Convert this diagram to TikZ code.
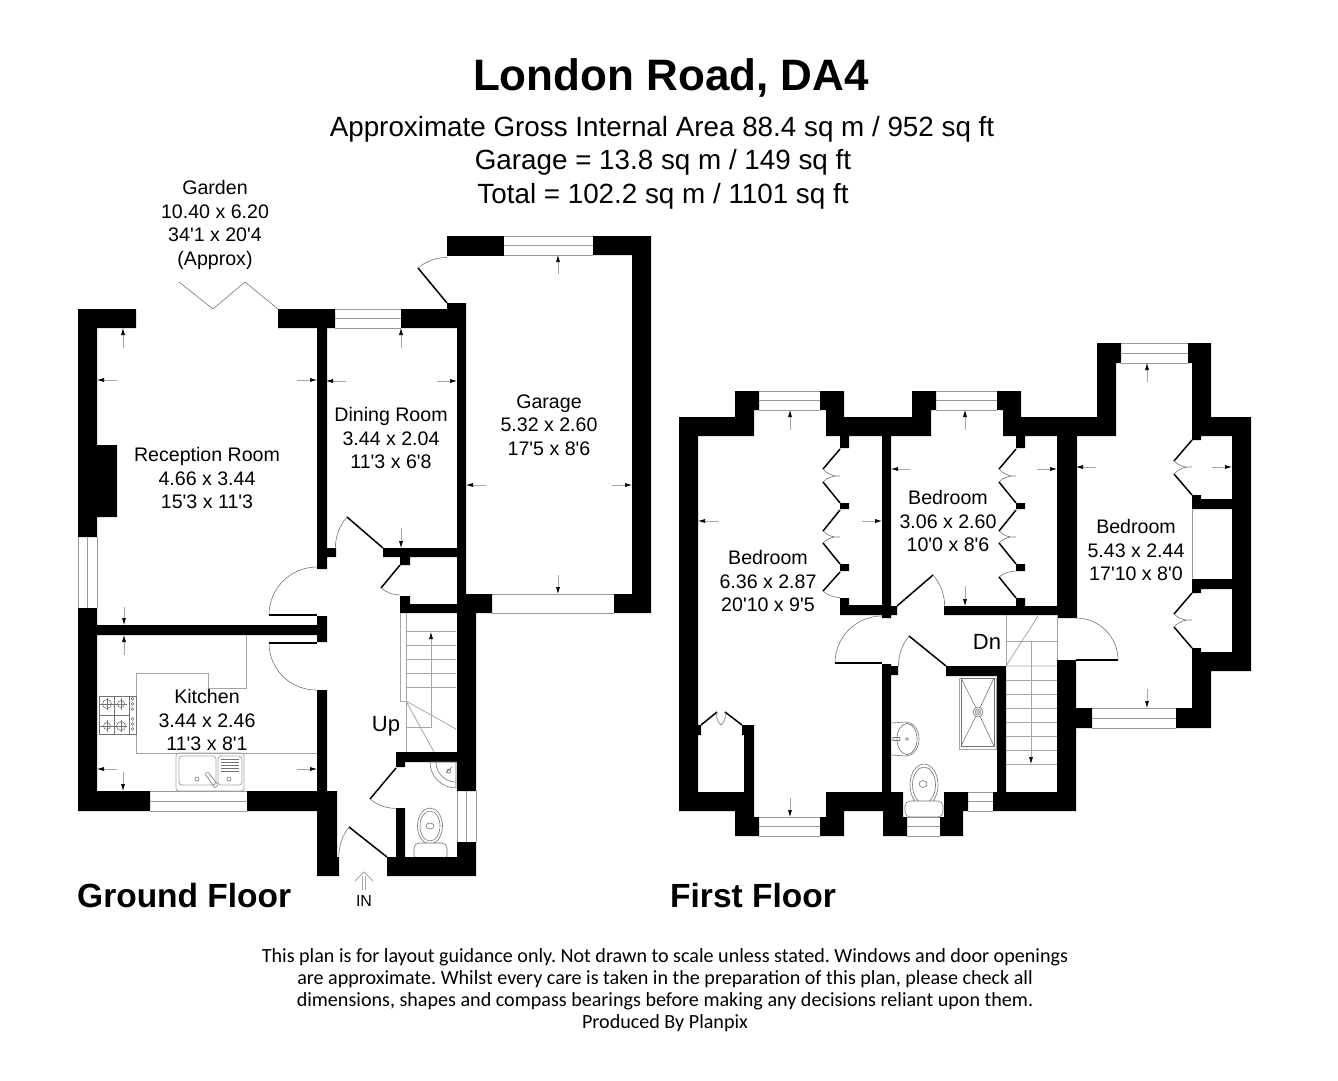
\documentclass[tikz,border=0pt]{standalone}
\usepackage{fontspec}
\setmainfont[Ligatures=TeXOff]{Liberation Sans}
\newfontfamily\notefont{Carlito}
\usetikzlibrary{arrows.meta}

\begin{document}
\frenchspacing
\begin{tikzpicture}[x=1pt, y=-1pt,
		wall/.style={fill=black},
		leaf/.style={draw=black, line width=1.5pt},
		fine/.style={draw=black!55, line width=0.6pt},
		win/.style={draw=black!40, line width=0.7pt},
		unit/.style={draw=black!35, line width=0.8pt},
		tick/.style={draw=black!35, line width=0.6pt, -{Latex[black, length=7pt, width=4pt]}},
		roomtext/.style={inner sep=0pt, align=center, font=\fontsize{19.6}{23.6}\selectfont},
		floortext/.style={inner sep=0pt, anchor=west, font=\fontsize{33.5}{36}\selectfont\bfseries},
		areatext/.style={inner sep=0pt, font=\fontsize{27.8}{32}\selectfont},
		notetext/.style={inner sep=0pt, font=\fontsize{20.1}{22}\selectfont\notefont}]
	\useasboundingbox (0, 0) rectangle (1338, 1080);

	% Ground floor walls
	\fill[wall] (78, 309) -- (136, 309) -- (136, 328) -- (97, 328) -- (97, 445) -- (117, 445) -- (117, 517) -- (97, 517) -- (97, 537) -- (78, 537) -- cycle;
	\fill[wall] (78, 608) -- (97, 608) -- (97, 625) -- (317, 625) -- (317, 616) -- (327, 616) -- (327, 642) -- (317, 642) -- (317, 635) -- (97, 635) -- (97, 791) -- (150, 791) -- (150, 811) -- (78, 811) -- cycle;
	\fill[wall] (278, 309) -- (335, 309) -- (335, 328) -- (327, 328) -- (327, 548) -- (336, 548) -- (336, 557) -- (327, 557) -- (327, 569) -- (317, 569) -- (317, 328) -- (278, 328) -- cycle;
	\fill[wall] (401, 309) -- (447, 309) -- (447, 303) -- (466, 303) -- (466, 594) -- (492, 594) -- (492, 613) -- (476, 613) -- (476, 791) -- (457, 791) -- (457, 613) -- (400, 613) -- (400, 596) -- (410, 596) -- (410, 604) -- (457, 604) -- (457, 557) -- (410, 557) -- (410, 565) -- (400, 565) -- (400, 557) -- (383, 557) -- (383, 548) -- (457, 548) -- (457, 328) -- (401, 328) -- cycle;
	\fill[wall] (396, 752) -- (457, 752) -- (457, 762) -- (405, 762) -- (405, 767) -- (396, 767) -- cycle;
	\fill[wall] (457, 842) -- (476, 842) -- (476, 876) -- (387, 876) -- (387, 857) -- (396, 857) -- (396, 808) -- (405, 808) -- (405, 857) -- (457, 857) -- cycle;
	\fill[wall] (247, 791) -- (317, 791) -- (317, 690) -- (327, 690) -- (327, 791) -- (337, 791) -- (337, 857) -- (339, 857) -- (339, 876) -- (317, 876) -- (317, 811) -- (247, 811) -- cycle;
	\fill[wall] (447, 236) rectangle (504, 256);
	\fill[wall] (593, 236) -- (651, 236) -- (651, 613) -- (614, 613) -- (614, 594) -- (632, 594) -- (632, 255) -- (593, 255) -- cycle;

	% Ground floor windows
	\draw[win] (78, 537) -- (78, 608) (87.5, 537) -- (87.5, 608) (97, 537) -- (97, 608);
	\draw[win] (335, 309) -- (401, 309) (335, 318.5) -- (401, 318.5) (335, 328) -- (401, 328);
	\draw[win] (504, 236) -- (593, 236) (504, 245.5) -- (593, 245.5) (504, 255) -- (593, 255);
	\draw[win] (492, 594) -- (614, 594) (492, 613) -- (614, 613);
	\draw[win] (150, 791) -- (247, 791) (150, 801) -- (247, 801) (150, 811) -- (247, 811);
	\draw[win] (457, 791) -- (457, 842) (466.5, 791) -- (466.5, 842) (476, 791) -- (476, 842);

	% Ground floor doors
	\draw[fine] (179, 282) -- (213, 309) -- (245, 282) -- (278, 309);
	\draw[leaf] (269, 615) -- (317, 615);
	\draw[fine] (269, 615) arc (180:270:48);
	\draw[leaf] (269, 643) -- (317, 643);
	\draw[fine] (269, 643) arc (180:90:47);
	\draw[leaf] (447, 303) -- (418, 268);
	\draw[fine] (418, 268) arc (230:270:45);
	\draw[leaf] (383, 548) -- (347, 517);
	\draw[fine] (347, 517) arc (221:180:47.5);
	\draw[leaf] (400, 565) -- (381, 588);
	\draw[fine] (381, 588) arc (130:90:30);
	\draw[leaf] (396, 768) -- (370, 799);
	\draw[fine] (370, 799) arc (130:90:40);
	\draw[leaf] (387, 857) -- (349, 827);
	\draw[fine] (349, 827) arc (218:180:48);

	% Worktop, hob and sink
	\draw[unit] (246, 635) -- (246, 688) -- (208, 688) -- (208, 673) -- (136, 673) -- (136, 753) -- (317, 753);
	\draw[fine] (99, 696) rectangle (136, 734);
	\draw[fine] (99, 696) rectangle (114, 715) (114, 696) rectangle (129, 715) (99, 715) rectangle (114, 734) (114, 715) rectangle (129, 734);
	\draw[fine] (107, 704) circle (4.5) (121, 704) circle (3.5) (107, 726) circle (3.5) (121, 726) circle (4.5);
	\draw[fine] (100, 704) -- (114, 704) (107, 698) -- (107, 710) (115, 704) -- (127, 704) (121, 698) -- (121, 710);
	\draw[fine] (100, 726) -- (114, 726) (107, 720) -- (107, 732) (115, 726) -- (127, 726) (121, 720) -- (121, 732);
	\draw[fine] (132.5, 699) circle (1.5) (132.5, 704) circle (1.5) (132.5, 709) circle (1.5) (132.5, 719) circle (1.5) (132.5, 724) circle (1.5) (132.5, 729) circle (1.5);
	\draw[unit, rounded corners=3pt] (176, 753) rectangle (244, 791);
	\draw[unit, rounded corners=3pt] (179, 756) rectangle (216, 785);
	\draw[unit, rounded corners=3pt] (218, 756) rectangle (242, 785);
	\draw[fine] (221, 759) -- (239, 759) (221, 762) -- (239, 762) (221, 765) -- (239, 765) (221, 768) -- (239, 768) (221, 771) -- (239, 771);
	\draw[fine] (197, 779) circle (2) (229, 779) circle (2);
	\draw[fine, rounded corners=1pt] (205, 774) -- (208, 772) -- (218, 785) -- (215, 788) -- cycle;

	% Ground floor stairs
	\draw[unit] (400.5, 613) -- (400.5, 701) -- (406, 701) (406, 613) -- (406, 752);
	\draw[unit] (406, 631) -- (456, 631) (406, 645) -- (456, 645) (406, 659) -- (456, 659) (406, 673) -- (456, 673) (406, 687) -- (456, 687);
	\draw[unit] (406, 701) -- (456, 729) (406, 701) -- (434, 752);
	\draw[tick] (406, 727) -- (431, 727) -- (431, 632);

	% Ground floor WC
	\draw[fine] (430, 826) ellipse (12.5 and 18);
	\draw[fine] (430, 826) ellipse (10 and 15);
	\draw[fine] (430, 826) ellipse (4 and 3);
	\draw[fine, fill=white, rounded corners=5pt] (414, 843) rectangle (447, 860);
	\draw[fine] (430, 762) arc (180:90:26) -- (456, 762) -- cycle;
	\draw[fine] (436, 762) arc (180:90:20);
	\draw[fine] (446, 773) -- (452, 767) (449, 771) circle (2);
	\fill[wall] (387, 857) rectangle (476, 876);

	% Garage, dining room and reception room ticks
	\draw[tick] (123, 348) -- (123, 328);
	\draw[tick] (117, 380) -- (97, 380);
	\draw[tick] (297, 380) -- (317, 380);
	\draw[tick] (346, 381) -- (326, 381);
	\draw[tick] (437, 381) -- (457, 381);
	\draw[tick] (401, 348) -- (401, 328);
	\draw[tick] (401, 528) -- (401, 548);
	\draw[tick] (558, 274) -- (558, 255);
	\draw[tick] (558, 575) -- (558, 594);
	\draw[tick] (486, 485) -- (466, 485);
	\draw[tick] (612, 485) -- (632, 485);
	\draw[tick] (124, 607) -- (124, 625);
	\draw[tick] (124, 655) -- (124, 635);
	\draw[tick] (117, 769) -- (97, 769);
	\draw[tick] (297, 769) -- (317, 769);
	\draw[tick] (123, 772) -- (123, 791);

	% Entrance arrow
	\draw[unit] (355, 881) -- (364, 872) -- (373, 881) (362.5, 876) -- (362.5, 890) (365.5, 876) -- (365.5, 890);

	% First floor walls
	\fill[wall] (679, 417) -- (735, 417) -- (735, 391) -- (759, 391) -- (759, 410) -- (754, 410) -- (754, 436) -- (698, 436) -- (698, 725) -- (701, 725) -- (701, 735) -- (698, 735) -- (698, 792) -- (744, 792) -- (744, 735) -- (742, 735) -- (742, 725) -- (754, 725) -- (754, 817) -- (759, 817) -- (759, 836) -- (735, 836) -- (735, 811) -- (679, 811) -- cycle;
	\fill[wall] (820, 391) -- (844, 391) -- (844, 417) -- (912, 417) -- (912, 391) -- (936, 391) -- (936, 410) -- (931, 410) -- (931, 436) -- (891, 436) -- (891, 606) -- (897, 606) -- (897, 615) -- (891, 615) -- (891, 618) -- (882, 618) -- (882, 615) -- (840, 615) -- (840, 598) -- (849, 598) -- (849, 605) -- (882, 605) -- (882, 436) -- (849, 436) -- (849, 448) -- (840, 448) -- (840, 436) -- (826, 436) -- (826, 410) -- (820, 410) -- cycle;
	\fill[wall] (997, 391) -- (1021, 391) -- (1021, 417) -- (1097, 417) -- (1097, 343) -- (1121, 343) -- (1121, 363) -- (1116, 363) -- (1116, 436) -- (1077, 436) -- (1077, 618) -- (1057, 618) -- (1057, 615) -- (944, 615) -- (944, 606) -- (1016, 606) -- (1016, 598) -- (1025, 598) -- (1025, 606) -- (1057, 606) -- (1057, 436) -- (1025, 436) -- (1025, 448) -- (1016, 448) -- (1016, 436) -- (1003, 436) -- (1003, 410) -- (997, 410) -- cycle;
	\fill[wall] (1188, 343) -- (1211, 343) -- (1211, 417) -- (1251, 417) -- (1251, 671) -- (1211, 671) -- (1211, 728) -- (1176, 728) -- (1176, 708) -- (1192, 708) -- (1192, 648) -- (1201, 648) -- (1201, 652) -- (1232, 652) -- (1232, 436) -- (1201, 436) -- (1201, 440) -- (1192, 440) -- (1192, 363) -- (1188, 363) -- cycle;
	\fill[wall] (1192, 495) -- (1201, 495) -- (1201, 499) -- (1232, 499) -- (1232, 509) -- (1192, 509) -- cycle;
	\fill[wall] (1192, 579) -- (1232, 579) -- (1232, 589) -- (1201, 589) -- (1201, 593) -- (1192, 593) -- cycle;
	\fill[wall] (826, 792) -- (882, 792) -- (882, 664) -- (891, 664) -- (891, 666) -- (898, 666) -- (898, 675) -- (891, 675) -- (891, 792) -- (903, 792) -- (903, 817) -- (907, 817) -- (907, 836) -- (883, 836) -- (883, 811) -- (844, 811) -- (844, 836) -- (820, 836) -- (820, 817) -- (826, 817) -- cycle;
	\fill[wall] (944, 792) -- (968, 792) -- (968, 811) -- (963, 811) -- (963, 836) -- (940, 836) -- (940, 817) -- (944, 817) -- cycle;
	\fill[wall] (946, 666) -- (1006, 666) -- (1006, 792) -- (1057, 792) -- (1057, 660) -- (1076, 660) -- (1076, 708) -- (1092, 708) -- (1092, 728) -- (1076, 728) -- (1076, 811) -- (993, 811) -- (993, 792) -- (997, 792) -- (997, 676) -- (946, 676) -- cycle;
	\fill[wall] (840, 503) rectangle (849, 509) (840, 564) rectangle (849, 571) (1016, 503) rectangle (1025, 509) (1016, 564) rectangle (1025, 571);

	% First floor windows
	\draw[win] (759, 391) -- (820, 391) (759, 400.5) -- (820, 400.5) (759, 410) -- (820, 410);
	\draw[win] (936, 391) -- (997, 391) (936, 400.5) -- (997, 400.5) (936, 410) -- (997, 410);
	\draw[win] (1121, 343) -- (1188, 343) (1121, 353) -- (1188, 353) (1121, 363) -- (1188, 363);
	\draw[win] (759, 817) -- (820, 817) (759, 826.5) -- (820, 826.5) (759, 836) -- (820, 836);
	\draw[win] (907, 817) -- (940, 817) (907, 826.5) -- (940, 826.5) (907, 836) -- (940, 836);
	\draw[win] (968, 792) -- (993, 792) (968, 801.5) -- (993, 801.5) (968, 811) -- (993, 811);
	\draw[win] (1092, 708) -- (1176, 708) (1092, 718) -- (1176, 718) (1092, 728) -- (1176, 728);
	\draw[win] (1192, 509) -- (1192, 579);

	% First floor doors
	\draw[leaf] (835, 663) -- (882, 663);
	\draw[fine] (835, 663) arc (180:270:47);
	\draw[leaf] (1076, 660) -- (1118, 660);
	\draw[fine] (1118, 660) arc (0:-90:42);
	\draw[leaf] (946, 666) -- (909, 636);
	\draw[fine] (909, 636) arc (219:180:47.5);
	\draw[leaf] (897, 606) -- (933, 575);
	\draw[fine] (933, 575) arc (319:360:47.5);

	% Bedroom wardrobes
	\draw[leaf] (840, 449) -- (823, 469) (823, 482) -- (840, 503);
	\draw[fine] (823, 469) to[bend right=25] (840, 476) to[bend right=25] (823, 482);
	\draw[leaf] (840, 510) -- (823, 531) (823, 543) -- (840, 564);
	\draw[fine] (823, 531) to[bend right=25] (840, 537) to[bend right=25] (823, 543);
	\draw[leaf] (840, 572) -- (823, 591);
	\draw[fine] (823, 591) arc (132:90:25.5);
	\draw[leaf] (1016, 449) -- (999, 469) (999, 482) -- (1016, 503);
	\draw[fine] (999, 469) to[bend right=25] (1016, 476) to[bend right=25] (999, 482);
	\draw[leaf] (1016, 510) -- (999, 531) (999, 543) -- (1016, 564);
	\draw[fine] (999, 531) to[bend right=25] (1016, 537) to[bend right=25] (999, 543);
	\draw[leaf] (1016, 598) -- (999, 577);
	\draw[fine] (999, 577) arc (231:270:27);
	\draw[leaf] (1192, 440) -- (1174, 461) (1174, 474) -- (1192, 495);
	\draw[fine] (1174, 461) to[bend right=25] (1192, 467) to[bend right=25] (1174, 474);
	\draw[leaf] (1192, 593) -- (1174, 614) (1174, 627) -- (1192, 648);
	\draw[fine] (1174, 614) to[bend right=25] (1192, 620) to[bend right=25] (1174, 627);
	\draw[leaf] (701, 725) -- (717, 712) (742, 725) -- (725, 712);
	\draw[fine] (717, 712) to[bend right=30] (721, 725) to[bend right=30] (725, 712);

	% First floor stairs
	\draw[unit] (1006, 615) -- (1006, 666) (1057, 615) -- (1057, 660);
	\draw[unit] (1006, 641) -- (1057, 641) (1006, 680) -- (1057, 680) (1006, 694) -- (1057, 694) (1006, 708) -- (1057, 708) (1006, 722) -- (1057, 722) (1006, 736) -- (1057, 736) (1006, 750) -- (1057, 750) (1006, 764) -- (1057, 764);
	\draw[unit] (1006, 666) -- (1057, 666) (1006, 666) -- (1038, 616);
	\draw[tick] (1031, 641) -- (1031, 764);

	% Shower, basin and toilet
	\draw[unit] (959, 678) rectangle (996, 749);
	\draw[fine] (961, 678) rectangle (994, 746);
	\draw[fine] (961, 678) -- (978, 712) -- (994, 678) (961, 746) -- (978, 712) -- (994, 746);
	\draw[fine, fill=white] (978, 712) circle (5) (978, 712) circle (3) (978, 712) circle (1.5);
	\draw[fine] (891, 723) -- (906, 722) (891, 755) -- (906, 756);
	\draw[fine] (906, 722) arc (-90:90:13 and 17);
	\draw[fine] (907, 739) ellipse (10 and 15.5);
	\draw[fine] (893, 737.5) rectangle (900, 740.5) (907, 739) circle (1.5);
	\draw[fine] (924, 785) ellipse (14 and 21);
	\draw[fine] (924, 785) ellipse (11.5 and 18);
	\draw[fine] (923, 784) ellipse (4 and 3.5);
	\draw[fine, fill=white, rounded corners=5pt] (905, 801) rectangle (943, 817);

	% Bedroom ticks
	\draw[tick] (790, 430) -- (790, 410);
	\draw[tick] (718, 521) -- (698, 521);
	\draw[tick] (862, 521) -- (882, 521);
	\draw[tick] (790, 798) -- (790, 817);
	\draw[tick] (965, 430) -- (965, 410);
	\draw[tick] (910, 469) -- (891, 469);
	\draw[tick] (1037, 469) -- (1057, 469);
	\draw[tick] (965, 586) -- (965, 606);
	\draw[tick] (1147, 382) -- (1147, 363);
	\draw[tick] (1096, 467) -- (1076, 467);
	\draw[tick] (1212, 467) -- (1232, 467);
	\draw[tick] (1147, 689) -- (1147, 708);

	% Texts
	\node[inner sep=0pt, font=\fontsize{44}{48}\selectfont\bfseries] (title) at (671, 78) {London Road, DA4};
	\node[areatext] (areatotal) at (662, 129) {Approximate Gross Internal Area 88.4 sq m / 952 sq ft};
	\node[areatext] (areagarage) at (663, 162) {Garage = 13.8 sq m / 149 sq ft};
	\node[areatext] (areasum) at (663, 196) {Total = 102.2 sq m / 1101 sq ft};
	\node[roomtext] (garden) at (215, 225) {Garden\\10.40 x 6.20\\34'1 x 20'4\\(Approx)};
	\node[roomtext] (reception) at (207, 478) {Reception Room\\4.66 x 3.44\\15'3 x 11'3};
	\node[roomtext] (dining) at (391, 438) {Dining Room\\3.44 x 2.04\\11'3 x 6'8};
	\node[roomtext] (garage) at (549, 425) {Garage\\5.32 x 2.60\\17'5 x 8'6};
	\node[roomtext] (kitchen) at (207, 720) {Kitchen\\3.44 x 2.46\\11'3 x 8'1};
	\node[roomtext] (bedmain) at (768, 581) {Bedroom\\6.36 x 2.87\\20'10 x 9'5};
	\node[roomtext] (bedmid) at (948, 521) {Bedroom\\3.06 x 2.60\\10'0 x 8'6};
	\node[roomtext] (bedside) at (1136, 550) {Bedroom\\5.43 x 2.44\\17'10 x 8'0};
	\node[inner sep=0pt, font=\fontsize{22}{24}\selectfont] (up) at (386, 726) {Up};
	\node[inner sep=0pt, font=\fontsize{22}{24}\selectfont] (down) at (987, 642) {Dn};
	\node[inner sep=0pt, font=\fontsize{16}{18}\selectfont] (inlabel) at (364, 901) {IN};
	\node[floortext] (groundname) at (77, 896) {Ground Floor};
	\node[floortext] (firstname) at (670, 896) {First Floor};
	\node[notetext] (noteone) at (665, 957) {This plan is for layout guidance only. Not drawn to scale unless stated. Windows and door openings};
	\node[notetext] (notetwo) at (665, 979) {are approximate. Whilst every care is taken in the preparation of this plan, please check all};
	\node[notetext] (notethree) at (665, 1001) {dimensions, shapes and compass bearings before making any decisions reliant upon them.};
	\node[notetext] (notefour) at (665, 1023) {Produced By Planpix};
\end{tikzpicture}
\end{document}
